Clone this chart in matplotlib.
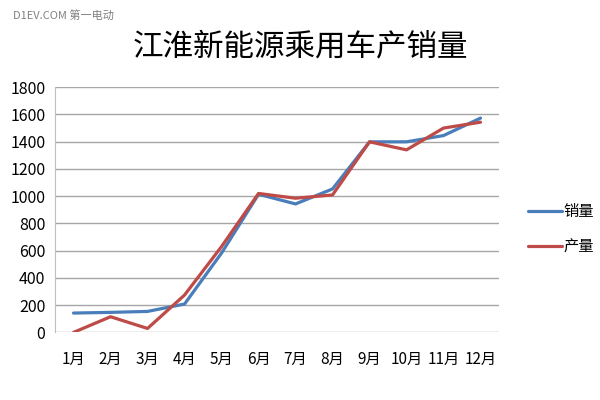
import matplotlib
matplotlib.use("Agg")
import matplotlib.pyplot as plt

plt.rcParams['font.family'] = ['Noto Sans CJK SC', 'DejaVu Sans']

months = ['1月', '2月', '3月', '4月', '5月', '6月', '7月', '8月', '9月', '10月', '11月', '12月']
sales = [142, 147, 154, 208, 582, 1014, 943, 1053, 1399, 1399, 1445, 1573]
production = [0, 115, 29, 274, 630, 1020, 985, 1009, 1399, 1340, 1500, 1543]

fig = plt.figure(figsize=(6, 4), dpi=100)
ax = fig.add_axes([0.0917, 0.169, 0.740, 0.613])

x = range(len(months))
ax.plot(x, sales, color='#4a7ebb', lw=2.3, label='销量', solid_capstyle='round')
ax.plot(x, production, color='#be4b48', lw=2.3, label='产量', solid_capstyle='round')

ax.set_xlim(-0.5, len(months) - 0.5)
ax.set_ylim(0, 1800)
ax.set_yticks(range(0, 1801, 200))
ax.set_xticks(list(x))
ax.set_xticklabels(months)
ax.yaxis.grid(True, color='#a6a6a6', lw=1)
ax.set_axisbelow(True)
for s in ['top', 'right', 'bottom']:
    ax.spines[s].set_visible(False)
ax.spines['left'].set_color('#bfbfbf')
ax.tick_params(axis='y', length=0, labelsize=11.5, colors='#000000', pad=7)
ax.tick_params(axis='x', length=0, labelsize=11, colors='#000000', pad=13)

fig.text(0.5, 0.882, '江淮新能源乘用车产销量', ha='center', va='center', fontsize=22)
fig.text(0.022, 0.962, 'D1EV.COM 第一电动', ha='left', va='center', fontsize=8, color='#808080')

ax.legend(loc='center left', bbox_to_anchor=(1.035, 0.42), frameon=False,
          fontsize=11, handlelength=2.2, handletextpad=0.1, labelspacing=1.2)

fig.savefig('out.png', dpi=100, facecolor='white')
